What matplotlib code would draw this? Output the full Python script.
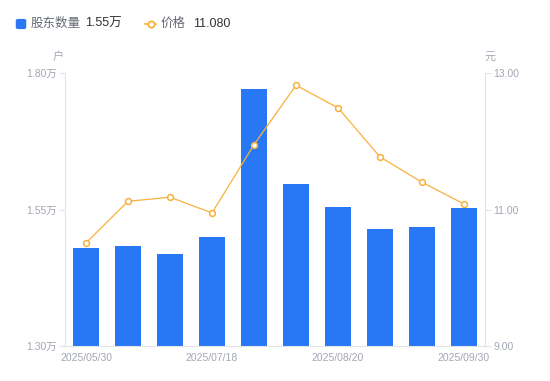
import matplotlib
matplotlib.use("Agg")
import matplotlib.pyplot as plt
from matplotlib.lines import Line2D
from matplotlib.patches import FancyBboxPatch

# data
dates = ["2025/05/30", "2025/06/20", "2025/06/30", "2025/07/18", "2025/07/31",
         "2025/08/08", "2025/08/20", "2025/08/29", "2025/09/10", "2025/09/30"]
holders = [1.480, 1.483, 1.468, 1.500, 1.771, 1.597, 1.555, 1.514, 1.518, 1.553]  # 万户
price = [10.51, 11.12, 11.18, 10.95, 11.95, 12.82, 12.49, 11.77, 11.40, 11.08]
shown_labels = [0, 3, 6, 9]
left_ticks = [1.30, 1.55, 1.80]
right_ticks = [9.00, 11.00, 13.00]

BLUE = "#2878F5"
ORANGE = "#F8B13A"
TICK_GRAY = "#A3A6B4"
AXIS_GRAY = "#E3E4E8"
FONT = ["Liberation Sans", "Noto Sans CJK SC", "DejaVu Sans"]

plt.rcParams["font.family"] = FONT

fig = plt.figure(figsize=(5.5, 3.81), dpi=100)
ax = fig.add_axes([65 / 550, 1 - 346 / 381, 420 / 550, 273 / 381])
ax2 = ax.twinx()

x = list(range(len(dates)))
ax.bar(x, [h - left_ticks[0] for h in holders], bottom=left_ticks[0],
       width=0.6, color=BLUE, zorder=2)
ax.set_xlim(-0.5, len(dates) - 0.5)
ax.set_ylim(left_ticks[0], left_ticks[-1])
ax.set_yticks(left_ticks)
ax.set_yticklabels([f"{t:.2f}万" for t in left_ticks])
ax.set_xticks([x[i] for i in shown_labels])
ax.set_xticklabels([dates[i] for i in shown_labels])

ax2.plot(x, price, color=ORANGE, lw=0.9, marker="o", ms=4.2,
         mfc="white", mec=ORANGE, mew=1.1, zorder=3)
ax2.set_ylim(right_ticks[0], right_ticks[-1])
ax2.set_yticks(right_ticks)
ax2.set_yticklabels([f"{t:.2f}" for t in right_ticks])

for a in (ax, ax2):
    for s in a.spines.values():
        s.set_visible(False)
    a.tick_params(axis="both", colors=AXIS_GRAY, labelcolor=TICK_GRAY,
                  labelsize=7.5, length=4, width=0.8, pad=2)
ax.tick_params(axis="x", length=0, pad=5)
ax.spines["left"].set_visible(True)
ax.spines["left"].set_color(AXIS_GRAY)
ax.spines["bottom"].set_visible(True)
ax.spines["bottom"].set_color(AXIS_GRAY)
ax2.spines["right"].set_visible(True)
ax2.spines["right"].set_color(AXIS_GRAY)

# unit labels
fig.text(58 / 550, 1 - 57 / 381, "户", color=TICK_GRAY, fontsize=8,
         ha="center", va="center")
fig.text(490 / 550, 1 - 57 / 381, "元", color=TICK_GRAY, fontsize=8,
         ha="center", va="center")

# legend
ly = 1 - 24 / 381
fig.patches.append(FancyBboxPatch((17 / 550, ly - 4 / 381), 8 / 550, 8 / 381,
                                  boxstyle="round,pad=0.001,rounding_size=0.003",
                                  transform=fig.transFigure, color=BLUE))
fig.text(31 / 550, ly, "股东数量", color="#666A75", fontsize=9, va="center")
fig.text(85 / 550, ly, f"{holders[-1]:.2f}万", color="#333333", fontsize=9,
         va="center")
fig.lines.append(Line2D([145 / 550, 156 / 550], [ly, ly], transform=fig.transFigure,
                        color=ORANGE, lw=1.2))
fig.lines.append(Line2D([150.5 / 550], [ly], transform=fig.transFigure,
                        color=ORANGE, marker="o", ms=4.5, mfc="white",
                        mec=ORANGE, mew=1.3, lw=0))
fig.text(161 / 550, ly, "价格", color="#666A75", fontsize=9, va="center")
fig.text(193 / 550, ly, f"{price[-1]:.3f}", color="#333333", fontsize=9,
         va="center")

fig.savefig("out.png", dpi=100)
